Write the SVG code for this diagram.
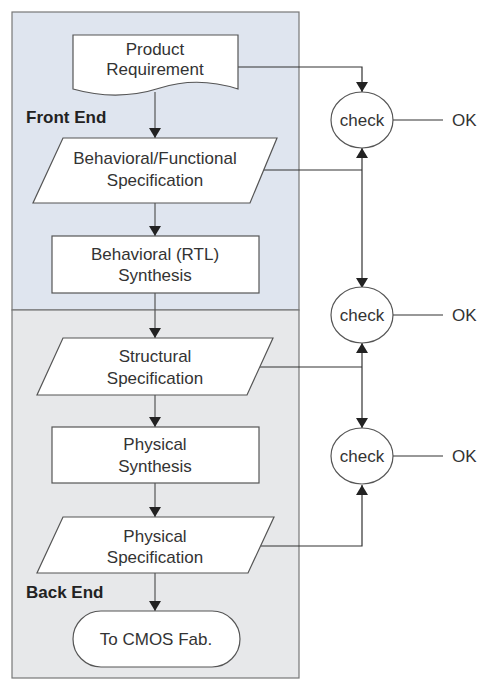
<svg xmlns="http://www.w3.org/2000/svg" width="478" height="682" viewBox="0 0 478 682">
  <defs>
    <marker id="arrow" markerWidth="10" markerHeight="12" refX="10" refY="6" orient="auto" markerUnits="userSpaceOnUse">
      <path d="M0,0 L10,6 L0,12 Z" fill="#222"/>
    </marker>
    <style>
      .node { fill: #ffffff; stroke: #555; stroke-width: 1.2; }
      .lbl { font-family: "Liberation Sans", Arial, sans-serif; font-size: 17px; fill: #333; text-anchor: middle; }
      .bold { font-family: "Liberation Sans", Arial, sans-serif; font-size: 17px; font-weight: bold; fill: #222; }
      .ok { font-family: "Liberation Sans", Arial, sans-serif; font-size: 17px; fill: #333; }
      .wire { fill: none; stroke: #333; stroke-width: 1.2; }
      .flow { fill: none; stroke: #555; stroke-width: 1.2; marker-end: url(#arrow); }
    </style>
  </defs>
  <rect width="478" height="682" fill="#ffffff"/>

  <!-- stage panels -->
  <g id="panels">
    <rect x="12" y="12" width="287" height="298" fill="#dfe5ef" stroke="#777" stroke-width="1.2"/>
    <rect x="12" y="310" width="287" height="368" fill="#e7e8ea" stroke="#777" stroke-width="1.2"/>
    <text class="bold" x="26" y="123">Front End</text>
    <text class="bold" x="26" y="598">Back End</text>
  </g>

  <!-- connectors -->
  <g id="connectors">
    <!-- main flow -->
    <line class="flow" x1="155" y1="92" x2="155" y2="138"/>
    <line class="flow" x1="155" y1="203" x2="155" y2="236"/>
    <line class="flow" x1="155" y1="293" x2="155" y2="338"/>
    <line class="flow" x1="155" y1="395" x2="155" y2="427"/>
    <line class="flow" x1="155" y1="483" x2="155" y2="517"/>
    <line class="flow" x1="155" y1="573" x2="155" y2="611"/>
    <!-- check paths -->
    <path class="wire" d="M238,67 H362 V92" marker-end="url(#arrow)"/>
    <path class="wire" d="M262,170 H362"/>
    <line class="wire" x1="362" y1="170" x2="362" y2="148" marker-end="url(#arrow)"/>
    <line class="wire" x1="362" y1="170" x2="362" y2="288" marker-end="url(#arrow)"/>
    <path class="wire" d="M260,367 H362"/>
    <line class="wire" x1="362" y1="367" x2="362" y2="343" marker-end="url(#arrow)"/>
    <line class="wire" x1="362" y1="367" x2="362" y2="428" marker-end="url(#arrow)"/>
    <path class="wire" d="M261,546 H362 V485" marker-end="url(#arrow)"/>
    <!-- OK leads -->
    <line class="wire" x1="393" y1="120" x2="443" y2="120"/>
    <line class="wire" x1="393" y1="315" x2="443" y2="315"/>
    <line class="wire" x1="393" y1="456" x2="443" y2="456"/>
  </g>

  <g id="product-requirement">
    <path class="node" d="M73,35 H238 V89 C210,80 185,80 160,88 C135,96 105,98 73,89 Z"/>
    <text class="lbl" x="155" y="55">Product</text>
    <text class="lbl" x="155" y="75">Requirement</text>
  </g>

  <g id="behavioral-spec">
    <polygon class="node" points="63,138 277,138 250,203 33,203"/>
    <text class="lbl" x="155" y="164">Behavioral/Functional</text>
    <text class="lbl" x="155" y="186">Specification</text>
  </g>

  <g id="rtl-synthesis">
    <rect class="node" x="52" y="236" width="207" height="57"/>
    <text class="lbl" x="155" y="260">Behavioral (RTL)</text>
    <text class="lbl" x="155" y="281">Synthesis</text>
  </g>

  <g id="structural-spec">
    <polygon class="node" points="63,338 273,338 247,395 37,395"/>
    <text class="lbl" x="155" y="362">Structural</text>
    <text class="lbl" x="155" y="384">Specification</text>
  </g>

  <g id="physical-synthesis">
    <rect class="node" x="52" y="427" width="207" height="56"/>
    <text class="lbl" x="155" y="450">Physical</text>
    <text class="lbl" x="155" y="472">Synthesis</text>
  </g>

  <g id="physical-spec">
    <polygon class="node" points="63,517 274,517 248,573 37,573"/>
    <text class="lbl" x="155" y="542">Physical</text>
    <text class="lbl" x="155" y="563">Specification</text>
  </g>

  <g id="cmos-fab">
    <rect class="node" x="73" y="611" width="167" height="56" rx="28" ry="28"/>
    <text class="lbl" x="156" y="645">To CMOS Fab.</text>
  </g>

  <g id="check-1">
    <ellipse class="node" cx="362" cy="120" rx="31" ry="28"/>
    <text class="lbl" x="362" y="126">check</text>
    <text class="ok" x="452" y="126">OK</text>
  </g>

  <g id="check-2">
    <ellipse class="node" cx="362" cy="315" rx="31" ry="28"/>
    <text class="lbl" x="362" y="321">check</text>
    <text class="ok" x="452" y="321">OK</text>
  </g>

  <g id="check-3">
    <ellipse class="node" cx="362" cy="456" rx="31" ry="28"/>
    <text class="lbl" x="362" y="462">check</text>
    <text class="ok" x="452" y="462">OK</text>
  </g>
</svg>
